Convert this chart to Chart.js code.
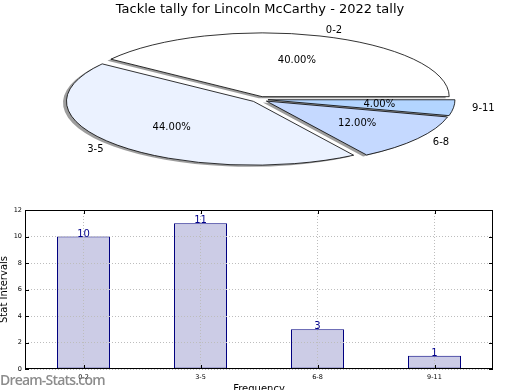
<!DOCTYPE html>
<html><head><meta charset="utf-8">
<script src="https://cdn.jsdelivr.net/npm/chart.js@4/dist/chart.umd.min.js"></script>
<style>
html,body{margin:0;padding:0;background:#fff;overflow:hidden;width:520px;height:390px;}
canvas{position:absolute;left:0;top:0;}
#wm{position:absolute;left:0;top:370px;font:600 14px "Open Sans";letter-spacing:-0.8px;color:rgba(128,128,128,0.9);white-space:nowrap;}
</style></head><body>
<canvas id="bar" width="520" height="400"></canvas>
<canvas id="pie" width="520" height="200"></canvas>
<div id="wm">Dream-Stats.com</div>
<script>
const chartTitle = 'Tackle tally for Lincoln McCarthy - 2022 tally';
const categories = ['0-2', '3-5', '6-8', '9-11'];
const counts = [10, 11, 3, 1];
const pieColors = ['#ffffff', '#ebf2ff', '#c5d9ff', '#b3d5ff'];
const yTickMin = 0, yTickMax = 12, yTickStep = 2;
const xTitle = 'Frequency';
const yTitle = 'Stat Intervals';

const FONT = 'DejaVu Sans';
const total = counts.reduce((a, b) => a + b, 0);

// pie ellipse geometry (styling)
const PIE_CX = 259.6, PIE_CY = 99.4, PIE_RX = 187, PIE_RY = 63.8;
const EXPLODE = 0.045, SH_X = 3.5, SH_Y = 1.5;

const pieDraw = {
  id: 'pieDraw',
  beforeDatasetsDraw(chart) {
    const ctx = chart.ctx;
    const dpr = chart.currentDevicePixelRatio || 1;
    const els = chart.getDatasetMeta(0).data;
    const R = els[0].outerRadius;
    const sx = PIE_RX / R, sy = PIE_RY / R;
    const E = EXPLODE * R;
    const proto = Object.getPrototypeOf(ctx);
    ctx.stroke = function () { this.save(); this.setTransform(dpr, 0, 0, dpr, 0, 0); proto.stroke.call(this); this.restore(); };
    const setT = (el, dx, dy) => {
      ctx.setTransform(dpr, 0, 0, dpr, 0, 0);
      ctx.translate(PIE_CX + dx, PIE_CY + dy);
      ctx.scale(sx, -sy);
      const m = (el.startAngle + el.endAngle) / 2;
      ctx.translate(Math.cos(m) * E, Math.sin(m) * E);
      ctx.translate(-el.x, -el.y);
    };
    els.forEach(el => {
      ctx.save(); setT(el, -SH_X, SH_Y);
      const o = el.options;
      el.options = Object.assign({}, o, {backgroundColor: 'rgba(60,60,60,0.5)', borderWidth: 0});
      el.draw(ctx);
      el.options = o;
      ctx.restore();
    });
    els.forEach(el => { ctx.save(); setT(el, 0, 0); el.draw(ctx); ctx.restore(); });
    delete ctx.stroke;
    // labels
    ctx.save();
    ctx.setTransform(dpr, 0, 0, dpr, 0, 0);
    ctx.fillStyle = '#000';
    ctx.font = '10px "' + FONT + '"';
    ctx.textBaseline = 'middle';
    els.forEach((el, i) => {
      const m = (el.startAngle + el.endAngle) / 2;
      const c = Math.cos(m), s = Math.sin(m);
      const lx = PIE_CX + PIE_RX * (1.1 + EXPLODE) * c;
      const ly = PIE_CY - PIE_RY * (1.1 + EXPLODE) * s;
      ctx.textAlign = c > 0 ? 'left' : 'right';
      ctx.fillText(categories[i], lx, ly);
      const px = PIE_CX + PIE_RX * (0.6 + EXPLODE) * c;
      const py = PIE_CY - PIE_RY * (0.6 + EXPLODE) * s;
      ctx.textAlign = 'center';
      ctx.fillText((counts[i] / total * 100).toFixed(2) + '%', px, py);
    });
    ctx.restore();
    return false;
  }
};

new Chart(document.getElementById('pie'), {
  type: 'pie',
  data: {labels: categories, datasets: [{data: counts, backgroundColor: pieColors, borderColor: '#000', borderWidth: 0.8, borderJoinStyle: 'miter'}]},
  options: {
    responsive: false, animation: false, devicePixelRatio: 1, rotation: 90, radius: 60, events: [],
    layout: {padding: 0},
    plugins: {
      legend: {display: false}, tooltip: {enabled: false},
      title: {display: true, text: chartTitle, color: '#000', font: {family: FONT, size: 13, weight: 'normal', lineHeight: 1.2}, padding: {top: 2, bottom: 0}}
    }
  },
  plugins: [pieDraw]
});

const barDecor = {
  id: 'barDecor',
  afterDraw(chart) {
    const ctx = chart.ctx;
    const a = chart.chartArea;
    const xs = chart.scales.x, ys = chart.scales.y;
    ctx.save();
    // value labels
    ctx.fillStyle = '#00008b';
    ctx.font = '10px "' + FONT + '"';
    ctx.textAlign = 'center';
    ctx.textBaseline = 'alphabetic';
    chart.getDatasetMeta(0).data.forEach((el, i) => ctx.fillText(String(counts[i]), el.x, el.y));
    // box
    ctx.strokeStyle = '#000';
    ctx.lineWidth = 1;
    ctx.strokeRect(Math.round(a.left) + 0.5, Math.round(a.top) + 0.5, Math.round(a.right - a.left) - 1, Math.round(a.bottom - a.top) - 1);
    // inward ticks
    ctx.beginPath();
    ys.ticks.forEach((t, i) => {
      const y = Math.round(ys.getPixelForTick(i)) + 0.5;
      ctx.moveTo(a.left, y); ctx.lineTo(a.left + 4, y);
      ctx.moveTo(a.right, y); ctx.lineTo(a.right - 4, y);
    });
    xs.ticks.forEach((t, i) => {
      const x = Math.round(xs.getPixelForTick(i)) + 0.5;
      ctx.moveTo(x, a.bottom); ctx.lineTo(x, a.bottom - 4);
      ctx.moveTo(x, a.top); ctx.lineTo(x, a.top + 4);
    });
    ctx.stroke();
    ctx.restore();
  }
};

new Chart(document.getElementById('bar'), {
  type: 'bar',
  data: {labels: categories, datasets: [{data: counts, backgroundColor: '#ccccE6', borderColor: '#000080', borderWidth: 1, borderSkipped: false, barPercentage: 0.453, categoryPercentage: 1}]},
  options: {
    responsive: false, animation: false, devicePixelRatio: 1, events: [],
    layout: {padding: {top: 210, right: 27, left: 0, bottom: 0}},
    plugins: {legend: {display: false}, tooltip: {enabled: false}},
    scales: {
      x: {
        type: 'category', offset: true,
        grid: {offset: false, color: '#bdbdbd', lineWidth: 1, drawTicks: false, z: 1},
        border: {display: false, dash: [1, 2]},
        ticks: {color: '#000', font: {family: FONT, size: 6.5}, padding: 4, maxRotation: 0, autoSkip: false},
        title: {display: true, text: xTitle, color: '#000', font: {family: FONT, size: 10, lineHeight: 1.2}, padding: {top: 0, bottom: 5}},
        afterFit(s) { s.height = 31; }
      },
      y: {
        min: yTickMin, max: yTickMax,
        grid: {color: '#bdbdbd', lineWidth: 1, drawTicks: false, z: 1},
        border: {display: false, dash: [1, 2]},
        ticks: {stepSize: yTickStep, color: '#000', font: {family: FONT, size: 6.5}, padding: 3},
        title: {display: true, text: yTitle, color: '#000', font: {family: FONT, size: 10, lineHeight: 0.9}, padding: 0},
        afterFit(s) { s.width = 25; }
      }
    }
  },
  plugins: [barDecor]
});
</script>
</body></html>
